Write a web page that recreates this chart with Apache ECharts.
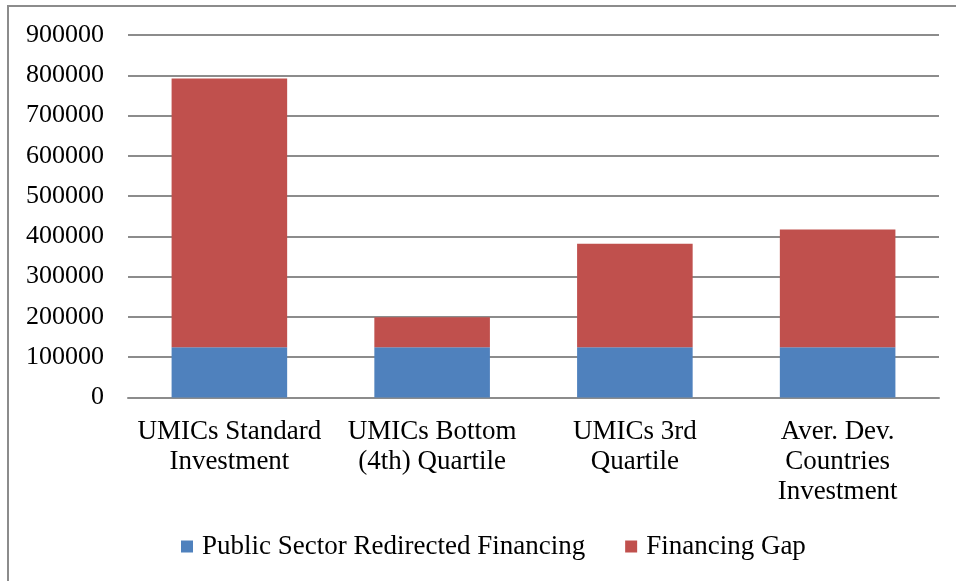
<!DOCTYPE html>
<html>
<head>
<meta charset="utf-8">
<script src="https://cdn.jsdelivr.net/npm/echarts@6/dist/echarts.min.js"></script>
<style>
  html, body { margin: 0; padding: 0; background: #fff; }
  #chart { width: 956px; height: 581px; }
</style>
</head>
<body>
<div id="chart"></div>
<script>
const categories = [
  'UMICs Standard\nInvestment',
  'UMICs Bottom\n(4th) Quartile',
  'UMICs 3rd\nQuartile',
  'Aver. Dev.\nCountries\nInvestment'
]
const publicSector = [125000, 125000, 125000, 125000]
const financingGap = [667000, 74000, 257000, 292000]
const yTicks = { min: 0, max: 900000, interval: 100000 }

const serif = "'Liberation Serif', 'Times New Roman', serif"
const gridGray = '#8c8c8c'

const chart = echarts.init(document.getElementById('chart'))

chart.setOption({
  animation: false,
  textStyle: { fontFamily: serif },
  grid: { left: 128, right: 17, top: 35, bottom: 183.5 },
  legend: {
    bottom: 21,
    left: 181,
    padding: 0,
    icon: 'rect',
    itemWidth: 12,
    itemHeight: 12,
    itemGap: 40,
    textStyle: { fontFamily: serif, fontSize: 27, color: '#000', padding: [0, 0, 0, 4] },
    data: ['Public Sector Redirected Financing', 'Financing Gap']
  },
  xAxis: {
    type: 'category',
    data: categories,
    axisLine: { lineStyle: { color: gridGray, width: 2 } },
    axisTick: { show: false },
    axisLabel: {
      interval: 0,
      fontFamily: serif,
      fontSize: 27,
      lineHeight: 30,
      color: '#000',
      margin: 19
    }
  },
  yAxis: {
    type: 'value',
    min: yTicks.min,
    max: yTicks.max,
    interval: yTicks.interval,
    axisLine: { show: false },
    axisTick: { show: false },
    axisLabel: {
      fontFamily: serif,
      fontSize: 26,
      color: '#000',
      margin: 24,
      formatter: v => String(v)
    },
    splitLine: { lineStyle: { color: gridGray, width: 2 } }
  },
  series: [
    {
      name: 'Public Sector Redirected Financing',
      type: 'bar',
      stack: 'total',
      barWidth: '57%',
      data: publicSector,
      itemStyle: { color: '#4F81BD' }
    },
    {
      name: 'Financing Gap',
      type: 'bar',
      stack: 'total',
      barWidth: '57%',
      data: financingGap,
      itemStyle: { color: '#C0504D' }
    }
  ],
  graphic: [
    {
      type: 'polyline',
      silent: true,
      shape: { points: [[8, 581], [8, 6], [956, 6]] },
      style: { stroke: '#8c8c8c', lineWidth: 2, fill: null }
    }
  ]
})
</script>
</body>
</html>
